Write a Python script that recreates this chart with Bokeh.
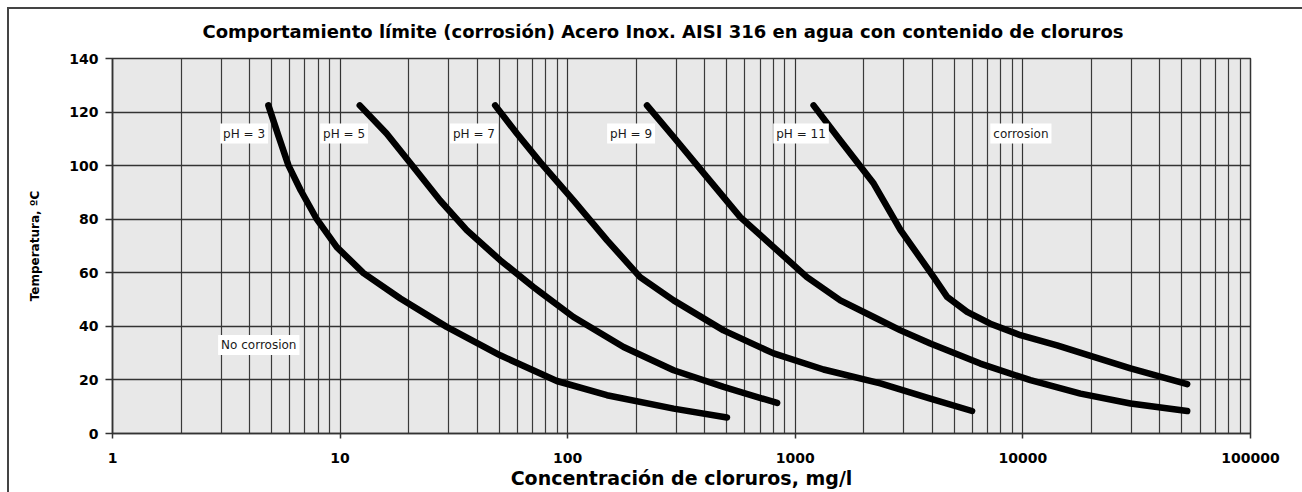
from bokeh.plotting import figure
from bokeh.models import Range1d, FixedTicker, Label
from bokeh.embed import file_html
from bokeh.resources import INLINE

# ---- data ----
x_major = [1, 10, 100, 1000, 10000, 100000]
y_ticks = [0, 20, 40, 60, 80, 100, 120, 140]

conc_ph3 = [4.84, 5.35, 5.93, 6.71, 7.90, 9.67, 12.67, 18.4, 29.4, 50.5, 89.6, 148.7, 292, 501]
temp_ph3 = [122.5, 111.3, 100.1, 90.8, 80.0, 69.6, 59.9, 50.4, 39.8, 29.2, 19.6, 14.3, 9.3, 6.0]

conc_ph5 = [12.2, 16.0, 21, 27.5, 36, 50.5, 70.7, 75.7, 106, 176, 292, 484, 832]
temp_ph5 = [122.5, 112, 99.5, 87, 75.9, 64.7, 54.7, 52.8, 43.5, 32.3, 23.6, 17.4, 11.4]

conc_ph7 = [48, 59.8, 75.7, 106, 149, 208, 292, 484, 803, 1331, 2365, 3920, 5980]
temp_ph7 = [122.5, 112, 101.3, 87, 72.1, 58.4, 49.7, 38.5, 29.9, 23.9, 18.7, 13, 8.4]

conc_ph9 = [223, 292, 409, 573, 803, 1125, 1577, 2210, 2900, 3920, 6500, 10790, 17900, 29700, 52700]
temp_ph9 = [122.5, 110.7, 95.7, 80.8, 69.6, 58.4, 49.7, 43.5, 38.5, 33.6, 26.1, 19.9, 14.9, 11.2, 8.4]

conc_ph11 = [1203, 1577, 2210, 2900, 4057, 4645, 5686, 7190, 9750, 14130, 20470, 29700, 52700]
temp_ph11 = [122.5, 109.4, 93.3, 75.9, 58.4, 51, 45.4, 41, 36.7, 32.9, 28.6, 24.3, 18.4]

label_texts = ["pH = 3", "pH = 5", "pH = 7", "pH = 9", "pH = 11", "corrosion", "No corrosion"]
label_x = [2.97, 8.17, 30.4, 149, 800, 7190, 2.91]
label_y = [112, 112, 112, 112, 112, 112, 33]

# ---- figure ----
p = figure(width=1302, height=492, x_axis_type="log",
           x_range=Range1d(1, 100000), y_range=Range1d(0, 140),
           output_backend="svg", toolbar_location=None,
           min_border_left=112, min_border_right=52,
           min_border_top=58, min_border_bottom=59,
           background_fill_color="#e8e8e8", border_fill_color=None,
           outline_line_color="#333333", outline_line_width=1.5)
p.styles = {"background-color": "#ffffff",
            "box-shadow": "inset 7px 7px 0 0 #ffffff, inset 9px 9px 0 0 #444444"}

minor = [m * d for d in [1, 10, 100, 1000, 10000] for m in range(2, 10)]
p.xaxis.ticker = FixedTicker(ticks=x_major, minor_ticks=minor)
p.yaxis.ticker = FixedTicker(ticks=y_ticks)
p.xaxis.major_label_overrides = {v: str(v) for v in x_major}

for ax in (p.xaxis, p.yaxis):
    ax.axis_line_color = "#333333"
    ax.axis_line_width = 1.5
    ax.major_tick_line_color = "#333333"
    ax.major_tick_line_width = 1.5
    ax.major_tick_in = 0
    ax.minor_tick_line_color = None
    ax.major_label_text_font = "DejaVu Sans"
    ax.major_label_text_font_style = "bold"
    ax.major_label_text_font_size = "14px"
    ax.major_label_text_color = "black"
    ax.axis_label_text_font = "DejaVu Sans"
    ax.axis_label_text_font_style = "bold"
    ax.axis_label_text_color = "black"

p.yaxis.major_tick_out = 7
p.yaxis.major_label_standoff = 7
p.yaxis.axis_label = "Temperatura, ºC"
p.yaxis.axis_label_text_font_size = "12px"
p.yaxis.axis_label_standoff = 24

p.xaxis.major_tick_out = 5
p.xaxis.major_label_standoff = 14
p.xaxis.axis_label = "Concentración de cloruros, mg/l"
p.xaxis.axis_label_text_font_size = "19px"
p.xaxis.axis_label_standoff = 1

p.xgrid.grid_line_color = "#333333"
p.xgrid.grid_line_width = 1.2
p.xgrid.minor_grid_line_color = "#3a3a3a"
p.xgrid.minor_grid_line_width = 1.2
p.ygrid.grid_line_color = "#333333"
p.ygrid.grid_line_width = 1.3

p.title.text = "Comportamiento límite (corrosión) Acero Inox. AISI 316 en agua con contenido de cloruros"
p.title.align = "left"
p.title.offset = 90
p.title.text_font = "DejaVu Sans"
p.title.text_font_style = "bold"
p.title.text_font_size = "18px"
p.title.text_color = "black"
p.title.standoff = 34

for cx, ty in [(conc_ph3, temp_ph3), (conc_ph5, temp_ph5), (conc_ph7, temp_ph7),
               (conc_ph9, temp_ph9), (conc_ph11, temp_ph11)]:
    p.line(cx, ty, line_color="black", line_width=6.5, line_join="round", line_cap="round")

for t, lx, ly in zip(label_texts, label_x, label_y):
    p.add_layout(Label(x=lx, y=ly, text=t, text_font="DejaVu Sans", text_font_size="12px",
                       text_color="#1a1a1a", text_baseline="middle", text_align="left",
                       background_fill_color="white", padding=3))

open("out.html", "w").write(file_html(p, INLINE))
